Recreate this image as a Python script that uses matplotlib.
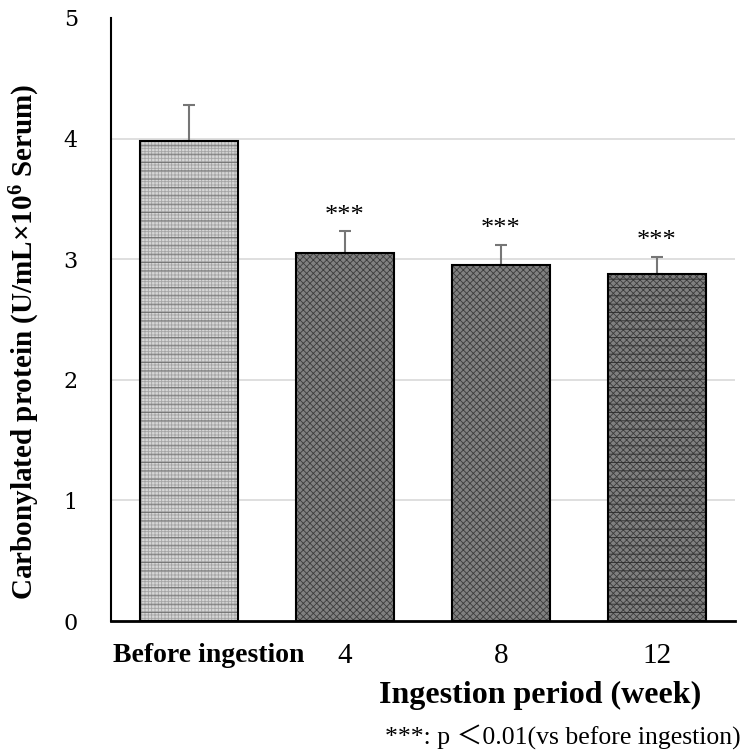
import matplotlib
matplotlib.use("Agg")
import matplotlib.pyplot as plt
import matplotlib.transforms as mtransforms

plt.rcParams["font.family"] = ["Liberation Serif", "DejaVu Serif"]
plt.rcParams["mathtext.fontset"] = "custom"
plt.rcParams["mathtext.rm"] = "Liberation Serif"
plt.rcParams["mathtext.bf"] = "Liberation Serif:bold"
plt.rcParams["hatch.linewidth"] = 0.6

# carbonylated protein by ingestion period
periods = ["Before ingestion", "4", "8", "12"]
means = [3.98, 3.05, 2.95, 2.88]
errors = [0.30, 0.18, 0.17, 0.14]
marks = ["", "***", "***", "***"]

face = ["#d6d6d6", "#808080", "#808080", "#808080"]
hatches = ["+++++", "xxxxx", "xxxxx", "xxxxx"]
hatch_cols = ["#a4a4a4", "#3c3c3c", "#3c3c3c", "#3c3c3c"]
stripes = ["#6a6a6a", None, None, "#2a2a2a"]

fig = plt.figure(figsize=(7.46, 7.56), dpi=100)
ax = fig.add_axes([111 / 746, 135 / 756, 624 / 746, 603 / 756])

x = list(range(len(periods)))
for i in x:
    ax.bar(i, means[i], width=0.63, color=face[i], edgecolor=hatch_cols[i],
           hatch=hatches[i], linewidth=0, zorder=2)
    if stripes[i]:
        ax.bar(i, means[i], width=0.63, fill=False, edgecolor=stripes[i],
               hatch="--", linewidth=0, zorder=2)
    ax.bar(i, means[i], width=0.63, fill=False, edgecolor="black",
           linewidth=1.5, zorder=3)
    ax.errorbar(i, means[i], yerr=[[0], [errors[i]]], fmt="none",
                ecolor="#767676", elinewidth=1.5, capsize=4, capthick=1.5,
                zorder=1)
    if marks[i]:
        ax.text(i, means[i] + errors[i] + 0.04, marks[i], ha="center",
                va="bottom", fontsize=19)

ax.set_xlim(-0.5, 3.5)
ax.set_ylim(0, 5)
ax.set_yticks([0, 1, 2, 3, 4, 5])
for yv in [1, 2, 3, 4]:
    ax.axhline(yv, color="#d9d9d9", linewidth=1.2, zorder=0)

for side in ["top", "right"]:
    ax.spines[side].set_visible(False)
ax.spines["left"].set_linewidth(1.5)
ax.spines["bottom"].set_linewidth(2)
ax.tick_params(axis="y", length=0, pad=29)
ax.tick_params(axis="x", length=0, pad=16, labelsize=21)

for t in ax.get_yticklabels():
    t.set_horizontalalignment("center")
    t.set_family("DejaVu Serif")
    t.set_fontsize(16)

ax.set_xticks(x)
ax.set_xticklabels(periods)
lbls = ax.get_xticklabels()
lbls[0].set_fontweight("bold")
lbls[0].set_fontsize(20)
lbls[0].set_transform(lbls[0].get_transform() +
                      mtransforms.ScaledTranslation(0.2, 0, fig.dpi_scale_trans))

ax.set_ylabel("Carbonylated protein (U/mL\u00d7$\\mathbf{10^6}$ Serum)",
              fontsize=21, fontweight="bold")
ax.yaxis.set_label_coords(-0.11, 0.463)
ax.set_xlabel("Ingestion period (week)", fontsize=23, fontweight="bold")
ax.xaxis.set_label_coords(0.6875, -0.10)

fig.text(0.993, 0.025, "***: p \uff1c0.01(vs before ingestion)", ha="right",
         va="center", fontsize=18.5, family=["Liberation Serif", "Noto Sans CJK JP"])

fig.savefig("out.png", dpi=100)
